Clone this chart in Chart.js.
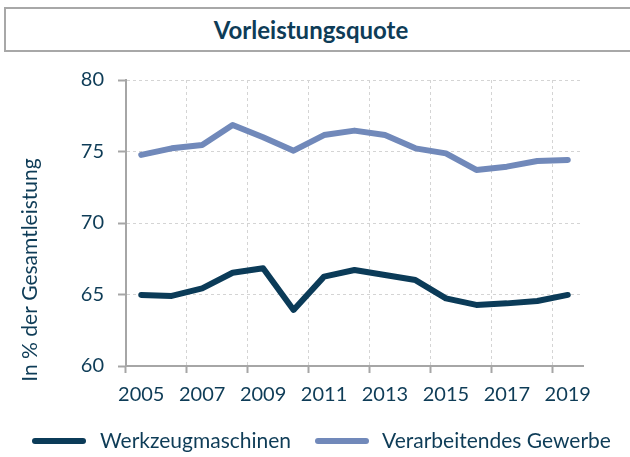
<!DOCTYPE html>
<html>
<head>
<meta charset="utf-8">
<script src="https://cdn.jsdelivr.net/npm/chart.js@4/dist/chart.umd.min.js"></script>
<style>
  html, body { margin: 0; padding: 0; background: #ffffff; overflow: hidden; }
  #wrap { position: relative; width: 630px; height: 457px; overflow: hidden; }
  #titlebox { position: absolute; left: 4px; top: 7px; width: 700px; height: 45px; box-sizing: border-box;
              border: 2px solid #a8a8a8; border-right: none; }
  #title { position: absolute; left: 0; top: 7px; width: 622px; height: 45px; line-height: 45px;
           text-align: center; font-family: Lato, "Open Sans", sans-serif; font-weight: bold; font-size: 24px; color: #0e3c57; }
  canvas { position: absolute; left: 0; top: 0; }
</style>
</head>
<body>
<div id="wrap">
  <div id="titlebox"></div>
  <div id="title">Vorleistungsquote</div>
  <canvas id="c" width="630" height="457"></canvas>
</div>
<script>
// ---- data ----
const years = ['2005','2006','2007','2008','2009','2010','2011','2012','2013','2014','2015','2016','2017','2018','2019'];
const tickLabels = ['2005','2007','2009','2011','2013','2015','2017','2019'];
const werkzeugmaschinen = [64.97, 64.90, 65.43, 66.52, 66.83, 63.92, 66.25, 66.71, 66.36, 66.01, 64.73, 64.27, 64.38, 64.55, 64.97];
const verarbeitendesGewerbe = [74.76, 75.22, 75.45, 76.85, 75.99, 75.06, 76.15, 76.46, 76.15, 75.22, 74.87, 73.71, 73.94, 74.34, 74.41];
const seriesNames = ['Werkzeugmaschinen', 'Verarbeitendes Gewerbe'];
const yAxisTitle = 'In % der Gesamtleistung';

const TEXT = '#0e3c57';
const DARK = '#0b3b58';
const LIGHT = '#7189ba';
const AXIS = '#a6a6a6';
const GRID = '#d4d4d4';
const FONT = 'Lato, "Open Sans", sans-serif';

const extraText = {
  id: 'extraText',
  afterDraw(chart) {
    const ctx = chart.ctx;
    ctx.save();
    // y axis title
    ctx.fillStyle = TEXT;
    ctx.font = '21px ' + FONT;
    ctx.textAlign = 'center';
    ctx.textBaseline = 'middle';
    ctx.translate(30, 270);
    ctx.rotate(-Math.PI / 2);
    ctx.fillText(yAxisTitle, 0, 0);
    ctx.restore();

    // legend
    const pos = [{x1: 35, x2: 83, tx: 100}, {x1: 318, x2: 366, tx: 382}];
    const ly = 441;
    chart.data.datasets.forEach((ds, i) => {
      const p = pos[i];
      ctx.save();
      ctx.strokeStyle = ds.borderColor;
      ctx.lineWidth = ds.borderWidth;
      ctx.lineCap = 'round';
      ctx.beginPath();
      ctx.moveTo(p.x1, ly);
      ctx.lineTo(p.x2, ly);
      ctx.stroke();
      ctx.fillStyle = TEXT;
      ctx.font = '21px ' + FONT;
      ctx.textAlign = 'left';
      ctx.textBaseline = 'middle';
      ctx.fillText(ds.label, p.tx, ly);
      ctx.restore();
    });
  }
};

new Chart(document.getElementById('c'), {
  type: 'line',
  data: {
    labels: years,
    datasets: [
      { label: seriesNames[0], data: werkzeugmaschinen, borderColor: DARK, backgroundColor: DARK,
        borderWidth: 6, pointRadius: 0, tension: 0, borderCapStyle: 'round', borderJoinStyle: 'round' },
      { label: seriesNames[1], data: verarbeitendesGewerbe, borderColor: LIGHT, backgroundColor: LIGHT,
        borderWidth: 6, pointRadius: 0, tension: 0, borderCapStyle: 'round', borderJoinStyle: 'round' }
    ]
  },
  options: {
    responsive: false,
    animation: false,
    devicePixelRatio: 1,
    layout: { padding: { top: 80, left: 0, right: 0, bottom: 50 } },
    plugins: { legend: { display: false }, tooltip: { enabled: false }, title: { display: false } },
    scales: {
      x: {
        type: 'category',
        offset: true,
        grid: {
          offset: true,
          drawOnChartArea: true,
          color: (c) => (c.index !== undefined && c.index > 0 && c.index % 2 === 0) ? GRID : 'rgba(0,0,0,0)',
          lineWidth: 1,
          tickColor: (c) => (c.index !== undefined && c.index % 2 === 0) ? AXIS : 'rgba(0,0,0,0)',
          tickLength: 7,
          tickWidth: 2,
          tickBorderDash: []
        },
        border: { display: true, color: AXIS, width: 2, dash: [3, 3] },
        ticks: {
          autoSkip: false,
          maxRotation: 0,
          minRotation: 0,
          padding: 10,
          color: TEXT,
          font: { family: FONT, size: 20 },
          callback: function (v) {
            const l = this.getLabelForValue(v);
            return tickLabels.includes(l) ? l : '';
          }
        },
        afterFit: (s) => { s.height = 41; }
      },
      y: {
        min: 60, max: 80,
        grid: {
          color: (c) => (c.tick && c.tick.value === 60) ? 'rgba(0,0,0,0)' : GRID,
          lineWidth: 1,
          tickColor: AXIS,
          tickLength: 8,
          tickWidth: 2,
          tickBorderDash: []
        },
        border: { display: true, color: AXIS, width: 2, dash: [3, 3] },
        ticks: { stepSize: 5, padding: 14, color: TEXT, font: { family: FONT, size: 20 } },
        afterFit: (s) => { s.width = 126; }
      },
      yR: {
        position: 'right',
        display: true,
        grid: { display: false, drawTicks: false },
        border: { display: false },
        ticks: { display: false },
        afterFit: (s) => { s.width = 47; }
      }
    }
  },
  plugins: [extraText]
});
</script>
</body>
</html>
